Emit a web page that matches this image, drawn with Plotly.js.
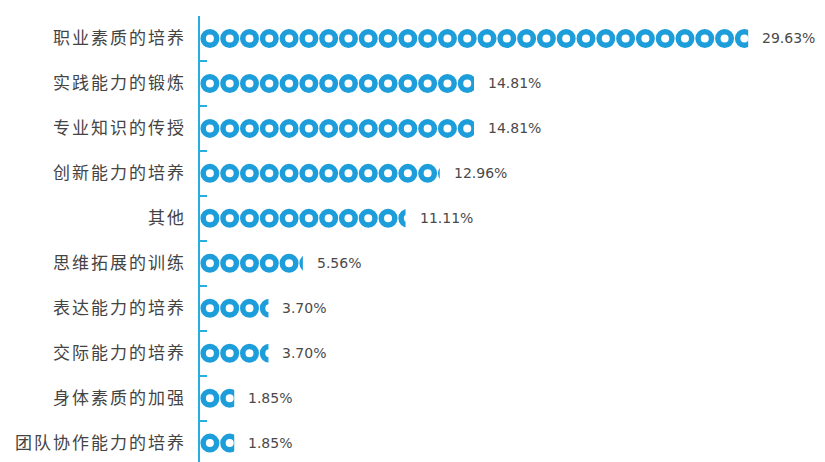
<!DOCTYPE html>
<html><head><meta charset="utf-8">
<script src="https://cdn.plot.ly/plotly-3.0.1.min.js"></script>
<style>html,body{margin:0;padding:0;background:#fff}#chart{width:825px;height:462px}</style>
</head><body><div id="chart"></div>
<script>
const categories = ["职业素质的培养","实践能力的锻炼","专业知识的传授","创新能力的培养","其他","思维拓展的训练","表达能力的培养","交际能力的培养","身体素质的加强","团队协作能力的培养"];
const values = [29.63,14.81,14.81,12.96,11.11,5.56,3.70,3.70,1.85,1.85];
const valueLabels = ["29.63%","14.81%","14.81%","12.96%","11.11%","5.56%","3.70%","3.70%","1.85%","1.85%"];

const STEP = 1.07; // symbol repeat spacing in axis units (style)
const blue = '#1d9edb';

const rx = [], ry = [];
categories.forEach((c, i) => {
  for (let k = 0; k * STEP < values[i]; k++) { rx.push(k * STEP + STEP / 2); ry.push(c); }
});

const traces = [
  {type:'scatter', mode:'markers', x: rx, y: ry, hoverinfo:'skip',
   marker:{symbol:'circle-open', size:13.5, color: blue, line:{width:5.5, color: blue}}}
];

const shapes = categories.map((c, i) => ({
  type:'rect', layer:'above', xref:'x', yref:'y',
  x0: values[i], x1: values[i] + STEP * 1.2, y0: i - 0.3, y1: i + 0.3,
  fillcolor:'#ffffff', line:{width:0}
}));

const annotations = categories.map((c, i) => ({
  x: values[i], y: c, text: valueLabels[i], showarrow:false, xanchor:'left', xshift:12,
  font:{family:'"DejaVu Sans", Verdana, sans-serif', size:14, color:'#4a4a4a'}
}));

const layout = {
  width:825, height:462, margin:{l:200, r:70, t:15.5, b:0},
  paper_bgcolor:'#fff', plot_bgcolor:'#fff', showlegend:false,
  xaxis:{range:[0,30], visible:false, fixedrange:true},
  yaxis:{type:'category', categoryarray: categories, range:[9.42,-0.5],
    tickmode:'array', tickvals: categories,
    ticktext: categories.map(c => '<span style="letter-spacing:2px">' + c + '</span>'),
    showline:true, linecolor:'#29aee0', linewidth:2.5, ticks:'inside', ticklen:7, tickwidth:2,
    tickcolor:'#29aee0', tickson:'boundaries', showgrid:false, zeroline:false, ticklabelstandoff:8,
    tickfont:{family:'"Noto Sans CJK SC", sans-serif', size:17, color:'#444'}},
  shapes, annotations
};
Plotly.newPlot('chart', traces, layout, {staticPlot:true});
</script></body></html>
